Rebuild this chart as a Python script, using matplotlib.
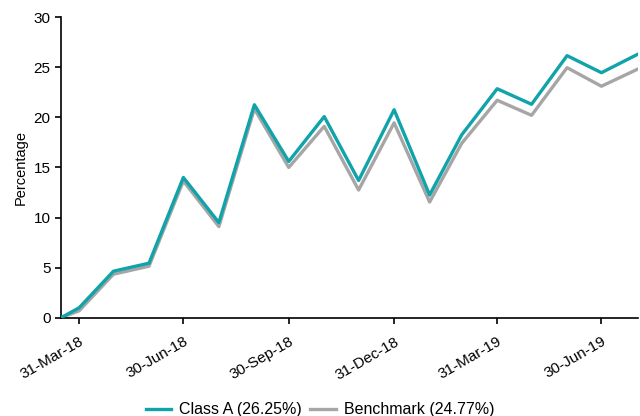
import pandas as pd
import matplotlib
matplotlib.use("Agg")
import matplotlib.pyplot as plt
import matplotlib.dates as mdates

plt.rcParams["font.family"] = ["Liberation Sans", "DejaVu Sans"]

DATY = ["2018-03-15", "2018-03-31", "2018-04-30", "2018-05-31", "2018-06-30",
        "2018-07-31", "2018-08-31", "2018-09-30", "2018-10-31", "2018-11-30",
        "2018-12-31", "2019-01-31", "2019-02-28", "2019-03-31", "2019-04-30",
        "2019-05-31", "2019-06-30", "2019-07-31"]
KLASA_A = [0.0, 1.0, 4.65, 5.45, 14.0, 9.5, 21.25, 15.6, 20.07, 13.7,
           20.75, 12.25, 18.25, 22.85, 21.3, 26.15, 24.45, 26.25]
BENCHMARK = [0.0, 0.7, 4.35, 5.15, 13.65, 9.1, 20.85, 15.0, 19.1, 12.75,
             19.45, 11.55, 17.4, 21.7, 20.2, 24.95, 23.1, 24.77]
TICKI = ["2018-03-31", "2018-06-30", "2018-09-30", "2018-12-31", "2019-03-31", "2019-06-30"]

daty = pd.to_datetime(DATY)

fig = plt.figure(figsize=(6.4, 4.16), dpi=100)
ax = fig.add_axes([0.095, 0.236, 0.902, 0.723])

ax.plot(daty, BENCHMARK, color="#a6a6a6", lw=2.4, label="Benchmark (24.77%)", zorder=2)
ax.plot(daty, KLASA_A, color="#10a3a9", lw=2.4, label="Class A (26.25%)", zorder=3)

ax.set_xlim(daty[0], daty[-1] + pd.Timedelta(days=1))
ax.set_ylim(0, 30)
ax.set_yticks(range(0, 31, 5))
ax.set_xticks(pd.to_datetime(TICKI))
ax.xaxis.set_major_formatter(mdates.DateFormatter("%d-%b-%y"))
plt.setp(ax.get_xticklabels(), rotation=30, ha="right", rotation_mode="anchor")

for s in ["top", "right"]:
    ax.spines[s].set_visible(False)
ax.spines["left"].set_linewidth(1.2)
ax.spines["bottom"].set_linewidth(1.2)
ax.tick_params(labelsize=11, length=4, width=1.2)
ax.tick_params(axis="x", pad=8)
ax.set_ylabel("Percentage", fontsize=10.5)

uchwyty, etykiety = ax.get_legend_handles_labels()
fig.legend(uchwyty[::-1], etykiety[::-1], loc="lower center", bbox_to_anchor=(0.5, -0.038),
           ncol=2, frameon=False, fontsize=11.5, handlelength=1.6, columnspacing=0.5,
           handletextpad=0.5)

fig.savefig("out.png", dpi=100)
